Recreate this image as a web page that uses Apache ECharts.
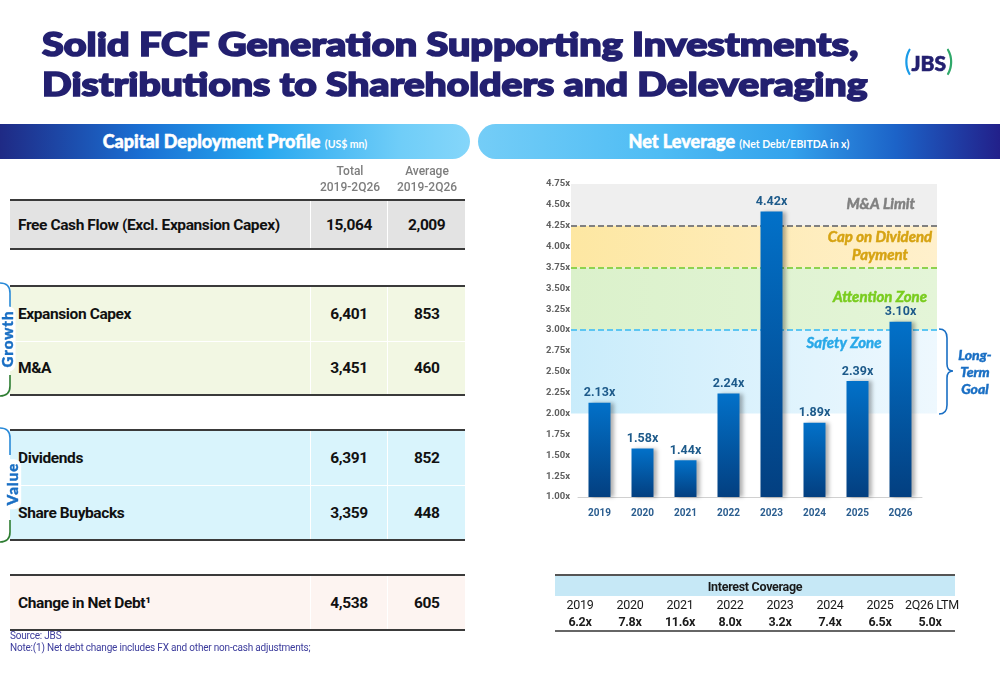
<!DOCTYPE html>
<html>
<head>
<meta charset="utf-8">
<style>
  body { margin: 0; width: 1000px; height: 685px; position: relative; overflow: hidden; background: #fff; font-family: Roboto, sans-serif; }
  .abs { position: absolute; }
  .tline { left: 42px; font-family: Lato, "Open Sans", sans-serif; font-weight: 900; font-size: 32px; line-height: 40px; color: #232070; white-space: nowrap; -webkit-text-stroke: 1.6px #232070; transform-origin: 0 50%; }
  .band { height: 35px; top: 124px; color: #fff; font-family: Lato, "Open Sans", sans-serif; font-weight: 900; font-size: 18px; line-height: 35px; text-align: center; white-space: nowrap; -webkit-text-stroke: 0.5px #fff; }
  .band small { font-size: 10.5px; font-weight: 700; -webkit-text-stroke: 0; }
  .block { left: 10px; width: 455px; border-top: 2px solid #3a3a3a; border-bottom: 2px solid #3a3a3a; box-sizing: border-box; }
  .row { position: relative; display: flex; align-items: center; font-weight: bold; font-size: 15.5px; letter-spacing: -0.4px; color: #111; }
  .row .lab { width: 301px; padding-left: 8px; box-sizing: border-box; }
  .row .c1, .row .c2 { text-align: center; border-left: 1.5px solid #fff; height: 100%; display: flex; align-items: center; justify-content: center; }
  .row .c1 { width: 77px; }
  .row .c2 { width: 77px; }
  .colhead { font-family: Roboto, sans-serif; font-size: 12px; color: #7d7d7d; font-weight: 500; text-align: center; line-height: 16px; width: 80px; }
  .side { font-family: Lato, sans-serif; font-weight: 900; font-size: 15px; color: #1a6fc4; transform: rotate(-90deg); background: #fff; border-radius: 7px; padding: 0 4px; letter-spacing: 1px; -webkit-text-stroke: 0.4px #1a6fc4; }
  .note { left: 10px; font-family: Roboto, sans-serif; font-size: 10px; letter-spacing: -0.2px; color: #3c3c9c; }
  table.ic { border-collapse: collapse; table-layout: fixed; width: 400px; font-family: Roboto, sans-serif; font-size: 12.5px; letter-spacing: -0.3px; color: #1a1a1a; border-top: 2px solid #555; border-bottom: 2px solid #666; }
  table.ic td { text-align: center; padding: 0; width: 50px; white-space: nowrap; overflow: visible; }
</style>
</head>
<body>
<div id="chart" class="abs" style="left:0;top:0;width:1000px;height:685px"></div>

<div class="abs tline" id="t1" style="top:24px">Solid FCF Generation Supporting Investments,</div>
<div class="abs tline" id="t2" style="top:64px">Distributions to Shareholders and Deleveraging</div>
<div class="abs" style="left:904px;top:44px;font-family:Lato,sans-serif;font-weight:900;font-size:21px;line-height:32px;color:#232070;-webkit-text-stroke:0.6px #232070"><span style="color:#1a9be8;font-size:28px;font-weight:400;-webkit-text-stroke:0">(</span>JBS<span style="color:#2fa86a;font-size:28px;font-weight:400;-webkit-text-stroke:0">)</span></div>

<div class="abs band" style="left:0;width:470px;border-radius:0 18px 18px 0;background:linear-gradient(90deg,#1f2a85 0%,#1a6fd3 30%,#26a6ef 55%,#6fcdf8 85%,#85d6fa 100%)">Capital Deployment Profile <small>(US$ mn)</small></div>
<div class="abs band" style="left:478px;width:522px;border-radius:18px 0 0 18px;background:linear-gradient(90deg,#74cdf7 0%,#4ebcf4 35%,#33a2ec 60%,#1c63c8 80%,#22208a 100%)">Net Leverage <small>(Net Debt/EBITDA in x)</small></div>

<div id="table"></div>

<svg class="abs" style="left:0;top:280px" width="20" height="270">
  <path d="M0 3 Q10 3 10 13 L10 30" fill="none" stroke="#2a8ad8" stroke-width="1.6"/>
  <path d="M10 95 L10 106 Q10 116 0 116" fill="none" stroke="#2e7d32" stroke-width="1.6"/>
  <path d="M0 148 Q10 148 10 158 L10 175" fill="none" stroke="#2a8ad8" stroke-width="1.6"/>
  <path d="M10 240 L10 252 Q10 262 0 262" fill="none" stroke="#2e7d32" stroke-width="1.6"/>
</svg>
<div class="abs side" style="left:-26px;top:330px">Growth</div>
<div class="abs side" style="left:-13px;top:475px">Value</div>

<div class="abs note" style="top:630px">Source: JBS</div>
<div class="abs note" style="top:642px">Note:(1) Net debt change includes FX and other non-cash adjustments;</div>

<svg class="abs" style="left:936px;top:326px" width="20" height="92">
  <path d="M3 3 Q11 3 11 12 L11 38 Q11 45 17 45 Q11 45 11 52 L11 79 Q11 88 3 88" fill="none" stroke="#1a6fc4" stroke-width="1.6"/>
</svg>
<div class="abs" style="left:952px;top:346px;width:46px;text-align:center;font-family:Lato,sans-serif;font-style:italic;font-weight:900;font-size:14px;line-height:17px;color:#1a6fc4;-webkit-text-stroke:0.4px #1a6fc4">Long-<br>Term<br>Goal</div>

<div id="ictable" class="abs" style="left:555px;top:574px"></div>

<script src="https://cdn.jsdelivr.net/npm/echarts@6/dist/echarts.min.js"></script>
<script>
// capital deployment table (US$ mn)
var rowLabels = ['Free Cash Flow (Excl. Expansion Capex)', 'Expansion Capex', 'M&A', 'Dividends', 'Share Buybacks', 'Change in Net Debt\u00b9'];
var rowTotal = [15064, 6401, 3451, 6391, 3359, 4538];
var rowAverage = [2009, 853, 460, 852, 448, 605];

// net leverage
var years = ['2019', '2020', '2021', '2022', '2023', '2024', '2025', '2Q26'];
var leverage = [2.13, 1.58, 1.44, 2.24, 4.42, 1.89, 2.39, 3.10];

// interest coverage
var icYears = ['2019', '2020', '2021', '2022', '2023', '2024', '2025', '2Q26 LTM'];
var icValues = ['6.2x', '7.8x', '11.6x', '8.0x', '3.2x', '7.4x', '6.5x', '5.0x'];

function fmt(v) { return v.toLocaleString('en-US'); }

// stretch the title lines to the slide width
[['t1', 816], ['t2', 826]].forEach(function (t) {
  var el = document.getElementById(t[0]);
  el.style.transform = 'scaleX(' + (t[1] / el.offsetWidth) + ')';
});

// blocks: [first row, row count, top, height, background]
var blocks = [
  [0, 1, 199, 51, '#e3e3e3'],
  [1, 2, 285, 111, '#f2f7e3'],
  [3, 2, 429, 112, '#d9f4fc'],
  [5, 1, 574, 57, '#fdf4f1']
];
var html = '<div class="abs colhead" style="left:310px;top:163px">Total<br>2019-2Q26</div>' +
           '<div class="abs colhead" style="left:387px;top:163px">Average<br>2019-2Q26</div>';
blocks.forEach(function (b) {
  var rh = (b[3] - 4) / b[1];
  html += '<div class="abs block" style="top:' + b[2] + 'px;height:' + b[3] + 'px;background:' + b[4] + '">';
  for (var i = b[0]; i < b[0] + b[1]; i++) {
    var sep = (i > b[0]) ? 'border-top:1.5px solid #fff;' : '';
    html += '<div class="row" style="height:' + rh + 'px;' + sep + 'box-sizing:border-box">' +
            '<div class="lab">' + rowLabels[i] + '</div>' +
            '<div class="c1">' + fmt(rowTotal[i]) + '</div>' +
            '<div class="c2">' + fmt(rowAverage[i]) + '</div></div>';
  }
  html += '</div>';
});
document.getElementById('table').innerHTML = html;

var ic = '<table class="ic"><tr style="background:#c6e8f6;height:21px"><td colspan="8" style="font-weight:bold">Interest Coverage</td></tr><tr style="height:17px">';
icYears.forEach(function (y) { ic += '<td>' + y + '</td>'; });
ic += '</tr><tr style="height:18px;font-weight:bold">';
icValues.forEach(function (v) { ic += '<td>' + v + '</td>'; });
ic += '</tr></table>';
document.getElementById('ictable').innerHTML = ic;

var chart = echarts.init(document.getElementById('chart'));

function hGrad(a, b) {
  return new echarts.graphic.LinearGradient(0, 0, 1, 0, [{offset: 0, color: a}, {offset: 1, color: b}]);
}

var option = {
  animation: false,
  textStyle: {fontFamily: 'Roboto, sans-serif'},
  grid: [
    {left: 578, right: 78, top: 184, bottom: 188},
    {left: 571, right: 63, top: 184, bottom: 188}
  ],
  xAxis: [
    {
      type: 'category', gridIndex: 0, data: years,
      axisLine: {lineStyle: {color: '#d0d0d0'}},
      axisTick: {show: false},
      axisLabel: {color: '#2a5d8f', fontWeight: 'bold', fontSize: 10, margin: 11}
    },
    {type: 'value', gridIndex: 1, min: 0, max: 1, show: false}
  ],
  yAxis: [
    {
      type: 'value', gridIndex: 0, min: 1, max: 4.75, interval: 0.25,
      axisLine: {show: false}, axisTick: {show: false}, splitLine: {show: false},
      axisLabel: {color: '#606060', fontWeight: 'bold', fontSize: 9.5, margin: 8,
        formatter: function (v) { return v.toFixed(2) + 'x'; }}
    },
    {type: 'value', gridIndex: 1, min: 1, max: 4.75, show: false}
  ],
  series: [
    {
      type: 'line', xAxisIndex: 1, yAxisIndex: 1, data: [], silent: true,
      markArea: {
        silent: true,
        data: [
          [{yAxis: 4.25, itemStyle: {color: '#efefef'}}, {yAxis: 4.75}],
          [{yAxis: 3.75, itemStyle: {color: hGrad('#fde7a2', '#fff0cc')}}, {yAxis: 4.25}],
          [{yAxis: 3.0, itemStyle: {color: hGrad('#dbf1cb', '#e4f5d8')}}, {yAxis: 3.75}],
          [{yAxis: 2.0, itemStyle: {color: hGrad('#c9ecfb', '#eef8fe')}}, {yAxis: 3.0}]
        ]
      },
      markLine: {
        silent: true, symbol: 'none', label: {show: false},
        data: [
          {yAxis: 4.25, lineStyle: {color: '#808080', type: [6, 3], width: 2}},
          {yAxis: 3.75, lineStyle: {color: '#8ed24f', type: [6, 3], width: 2}},
          {yAxis: 3.0, lineStyle: {color: '#5cc6f2', type: [6, 3], width: 2}}
        ]
      }
    },
    {
      type: 'bar', xAxisIndex: 0, yAxisIndex: 0, data: leverage, barWidth: 22, z: 5,
      itemStyle: {
        color: new echarts.graphic.LinearGradient(0, 0, 0, 1, [
          {offset: 0, color: '#0271c9'}, {offset: 1, color: '#033f80'}
        ]),
        shadowColor: 'rgba(0,0,0,0.3)', shadowBlur: 4, shadowOffsetX: 3, shadowOffsetY: 0
      },
      label: {
        show: true, position: 'top', distance: 3, color: '#1d5a8a', fontWeight: 'bold', fontSize: 12.5,
        formatter: function (p) { return p.value.toFixed(2) + 'x'; }
      }
    }
  ]
};
chart.setOption(option);

// zone captions placed on the value axis
function yPix(v) { return chart.convertToPixel({yAxisIndex: 0}, v); }
var capFont = 'italic bold 15px Lato, sans-serif';
function cap(text, x, v, align, fill) {
  return {type: 'text', z: 10, style: {text: text, x: x, y: yPix(v), align: align, verticalAlign: 'middle',
    font: capFont, lineHeight: 18, fill: fill, stroke: fill, lineWidth: 0.5}};
}
chart.setOption({
  graphic: [
    cap('M&A Limit', 915, 4.51, 'right', '#808080'),
    cap('Cap on Dividend\nPayment', 880, 4.0, 'center', '#d6a312'),
    cap('Attention Zone', 880, 3.39, 'center', '#79cc1e'),
    cap('Safety Zone', 844, 2.84, 'center', '#28a8e8')
  ]
});
</script>
</body>
</html>
